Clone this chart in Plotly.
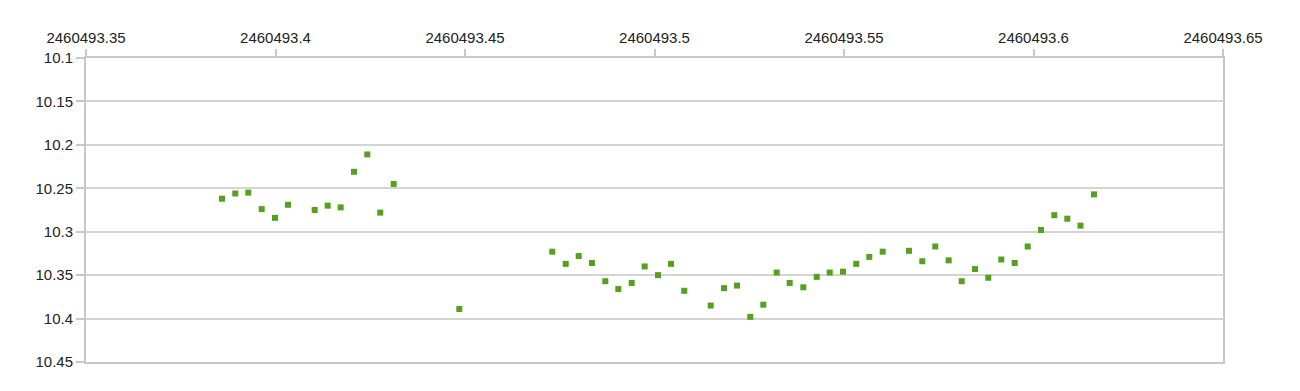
import plotly.graph_objects as go

jd = [2460493.38588, 2460493.38939, 2460493.39282, 2460493.39636, 2460493.39987, 2460493.40330,
      2460493.41034, 2460493.41377, 2460493.41720, 2460493.42071, 2460493.42422, 2460493.42765,
      2460493.43119, 2460493.44850, 2460493.47303, 2460493.47657, 2460493.48000, 2460493.48351,
      2460493.48702, 2460493.49045, 2460493.49398, 2460493.49741, 2460493.50092, 2460493.50435,
      2460493.50786, 2460493.51483, 2460493.51834, 2460493.52177, 2460493.52528, 2460493.52871,
      2460493.53224, 2460493.53567, 2460493.53926, 2460493.54280, 2460493.54623, 2460493.54973,
      2460493.55324, 2460493.55667, 2460493.56021, 2460493.56715, 2460493.57066, 2460493.57409,
      2460493.57762, 2460493.58105, 2460493.58456, 2460493.58807, 2460493.59150, 2460493.59504,
      2460493.59847, 2460493.60198, 2460493.60549, 2460493.60892, 2460493.61240, 2460493.61596]
mag = [10.262, 10.256, 10.255, 10.274, 10.284, 10.269,
       10.275, 10.270, 10.272, 10.231, 10.211, 10.278,
       10.245, 10.389, 10.323, 10.337, 10.328, 10.336,
       10.357, 10.366, 10.359, 10.340, 10.350, 10.337,
       10.368, 10.385, 10.365, 10.362, 10.398, 10.384,
       10.347, 10.359, 10.364, 10.352, 10.347, 10.346,
       10.337, 10.329, 10.323, 10.322, 10.334, 10.317,
       10.333, 10.357, 10.343, 10.353, 10.332, 10.336,
       10.317, 10.298, 10.281, 10.285, 10.293, 10.257]

x_tickvals = [2460493.35, 2460493.40, 2460493.45, 2460493.50, 2460493.55, 2460493.60, 2460493.65]
x_ticktext = ["2460493.35", "2460493.4", "2460493.45", "2460493.5", "2460493.55", "2460493.6", "2460493.65"]
y_tickvals = [10.10, 10.15, 10.20, 10.25, 10.30, 10.35, 10.40, 10.45]
y_ticktext = ["10.1", "10.15", "10.2", "10.25", "10.3", "10.35", "10.4", "10.45"]

fig = go.Figure(go.Scatter(
    x=jd, y=mag, mode="markers",
    marker=dict(symbol="square", size=6, color="#55a01f", line=dict(width=0)),
    showlegend=False,
))

axis_color = "#c8c8c8"
grid_color = "#d4d4d4"
fig.update_layout(
    width=1300, height=391,
    margin=dict(l=86, r=77, t=58, b=29),
    paper_bgcolor="white", plot_bgcolor="white",
    font=dict(family="Liberation Sans, Arial, sans-serif", size=15, color="#222222"),
    xaxis=dict(
        side="top", range=[2460493.35, 2460493.65],
        tickvals=x_tickvals, ticktext=x_ticktext,
        showgrid=False, zeroline=False,
        showline=True, linecolor=axis_color, linewidth=2, mirror=True,
        ticks="outside", ticklen=7, tickwidth=2, tickcolor=axis_color,
    ),
    yaxis=dict(
        range=[10.45, 10.1],
        tickvals=y_tickvals, ticktext=y_ticktext,
        showgrid=True, gridcolor=grid_color, gridwidth=2, zeroline=False,
        showline=True, linecolor=axis_color, linewidth=2, mirror=True,
        ticks="outside", ticklen=8, tickwidth=2, tickcolor=axis_color,
    ),
)

fig.write_html("out.html")
